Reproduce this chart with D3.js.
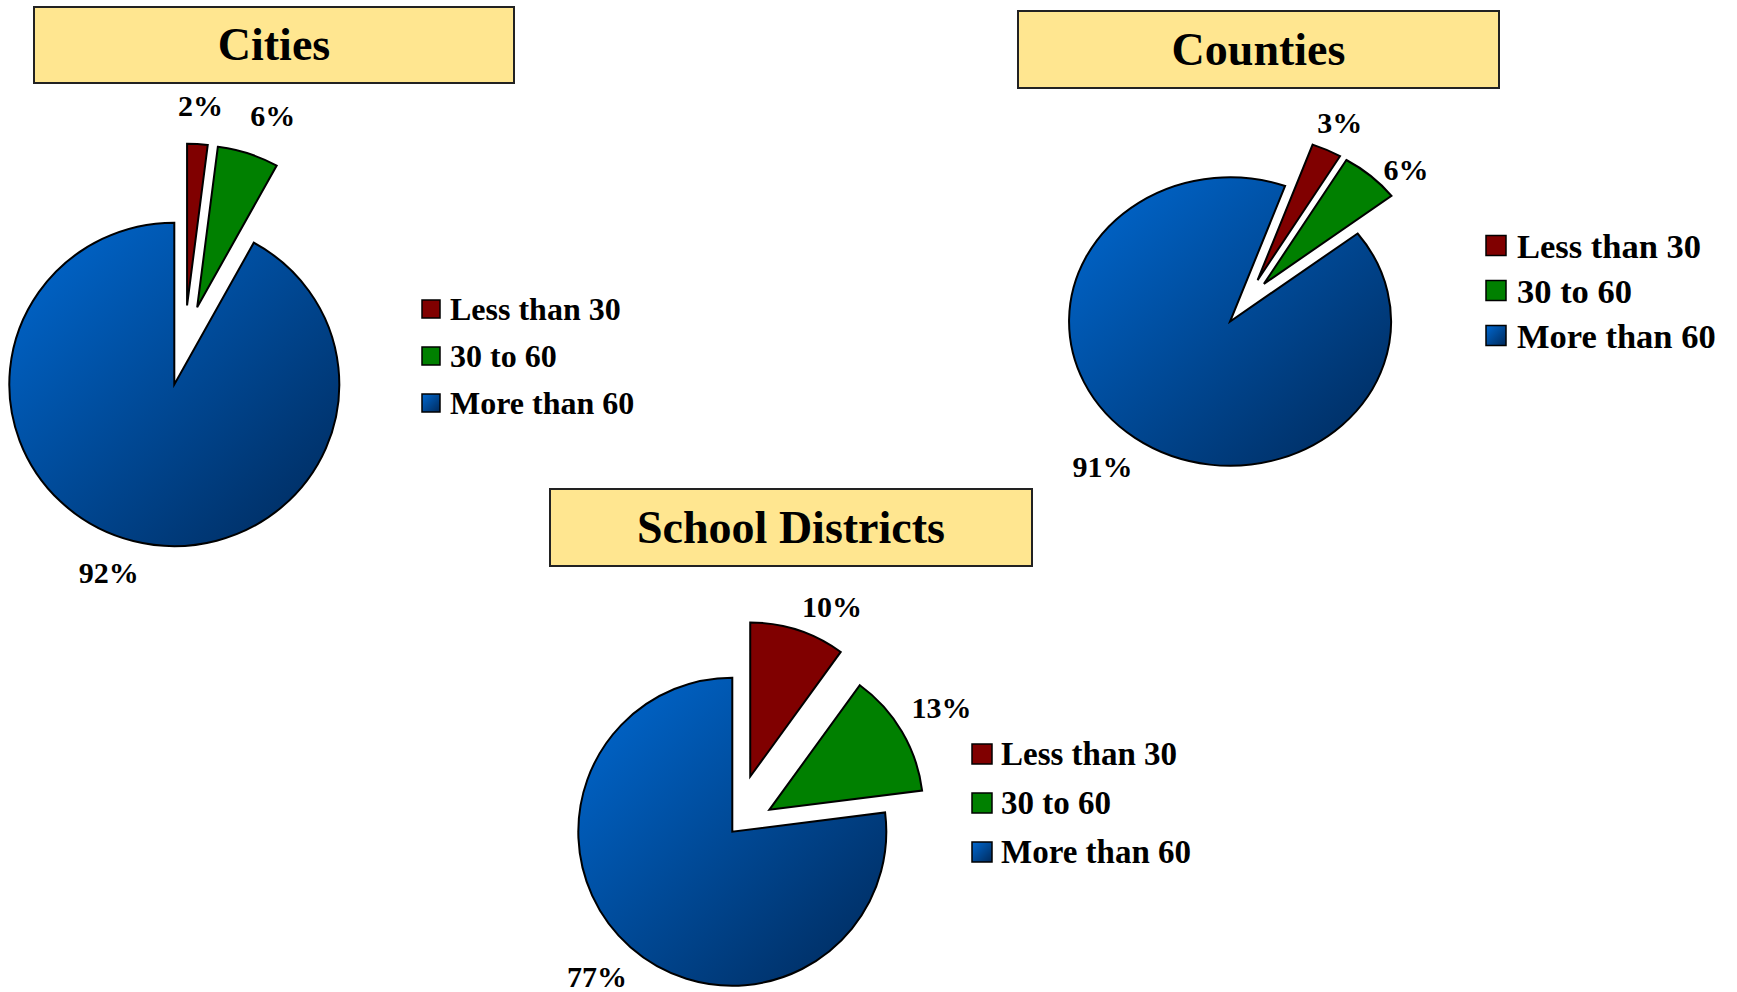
<!DOCTYPE html>
<meta charset="utf-8">
<script src="https://d3js.org/d3.v7.min.js"></script>
<style>
body { margin: 0; background: #fff; }
text {
  font-family: "Palatino Linotype", "Book Antiqua", Palatino, "Liberation Serif", serif;
  font-weight: bold;
  fill: #000;
}
.slice, .swatch {
  stroke: #000;
  stroke-width: 2px;
}
.titlebox {
  fill: #ffe690;
  stroke: #222;
  stroke-width: 2px;
}
</style>
<body>
<script>

// data
var categories = ["Less than 30", "30 to 60", "More than 60"];
var chartTitles = ["Cities", "Counties", "School Districts"];
var citiesValues = [2, 6, 92];
var countiesValues = [3, 6, 91];
var schoolValues = [10, 13, 77];

// layout for each of the three little charts
var panels = [
  {title: chartTitles[0], values: citiesValues,
   box: {x: 34, y: 7, w: 480, h: 76},
   pie: {cx: 184.5, cy: 345.5, r: 165, sy: 0.98, start: 0, explode: [41, 41, 41], gap: 28},
   nudge: [[0, 0], [9, -1], [-10, -6]],
   legend: {x: 422, y: 309, step: 47, size: 18, font: 32, dx: 28}},
  {title: chartTitles[1], values: countiesValues,
   box: {x: 1018, y: 11, w: 481, h: 77},
   pie: {cx: 1246, cy: 302, r: 161, sy: 0.896, start: 20, explode: [27, 27, 27], gap: 20},
   nudge: [[-5, -1], [7, 15], [-3, 5]],
   legend: {x: 1486, y: 245.5, step: 45, size: 20, font: 34.5, dx: 31}},
  {title: chartTitles[2], values: schoolValues,
   box: {x: 550, y: 489, w: 482, h: 77},
   pie: {cx: 732.3, cy: 831.7, r: 154, sy: 1, start: 0, explode: [58, 43, 0], gap: 22},
   nudge: [[18, 8], [-5, -7], [1, 5]],
   legend: {x: 972, y: 754, step: 49, size: 20, font: 33, dx: 29}}
];

var width = 1737, height = 992;

var color = d3.scaleOrdinal()
    .domain(categories)
    .range(["#800000", "#008000", "url(#blueGrad)"]);

var svg = d3.select("body").append("svg")
    .attr("width", width)
    .attr("height", height);

svg.append("rect")
    .attr("width", width)
    .attr("height", height)
    .attr("fill", "#fff");

// blue shading, light at top left, dark at bottom right
var grad = svg.append("defs").append("linearGradient")
    .attr("id", "blueGrad")
    .attr("x1", 0).attr("y1", 0)
    .attr("x2", 1).attr("y2", 1);
grad.append("stop").attr("offset", "0%").attr("stop-color", "#0069d2");
grad.append("stop").attr("offset", "100%").attr("stop-color", "#00295a");

panels.forEach(function(p) {
    var g = svg.append("g");

    // title box
    g.append("rect")
        .attr("class", "titlebox")
        .attr("x", p.box.x)
        .attr("y", p.box.y)
        .attr("width", p.box.w)
        .attr("height", p.box.h);

    g.append("text")
        .attr("x", p.box.x + p.box.w / 2)
        .attr("y", p.box.y + p.box.h / 2 + 15)
        .attr("text-anchor", "middle")
        .style("font-size", "46px")
        .text(p.title);

    // pie
    var a0 = p.pie.start * Math.PI / 180;
    var pie = d3.pie().sort(null).value(function(d) { return d.value; })
        .startAngle(a0).endAngle(a0 + 2 * Math.PI);
    var arc = d3.arc().innerRadius(0).outerRadius(p.pie.r);

    var rows = categories.map(function(c, i) { return {cat: c, value: p.values[i], i: i}; });
    var arcs = pie(rows);

    var pg = g.append("g")
        .attr("transform", "translate(" + p.pie.cx + "," + p.pie.cy + ") scale(1," + p.pie.sy + ")");

    pg.selectAll("path")
        .data(arcs)
        .enter()
        .append("path")
        .attr("class", "slice")
        .attr("vector-effect", "non-scaling-stroke")
        .attr("fill", function(d) { return color(d.data.cat); })
        .attr("transform", function(d) {
            var m = (d.startAngle + d.endAngle) / 2, e = p.pie.explode[d.data.i];
            return "translate(" + (e * Math.sin(m)) + "," + (-e * Math.cos(m)) + ")";
        })
        .attr("d", arc);

    // percent labels just outside each slice
    arcs.forEach(function(d) {
        var m = (d.startAngle + d.endAngle) / 2;
        var dist = p.pie.r + p.pie.explode[d.data.i] + p.pie.gap;
        var t = g.append("text")
            .attr("text-anchor", "middle")
            .attr("dominant-baseline", "central")
            .style("font-size", "30px")
            .text(d.data.value + "%");
        var w = t.node().getComputedTextLength(), h = 22;
        var nd = p.nudge[d.data.i];
        var x = p.pie.cx + dist * Math.sin(m) + w / 2 * Math.sin(m) + nd[0];
        var y = p.pie.cy - (dist * Math.cos(m)) * p.pie.sy - h / 2 * Math.cos(m) + nd[1];
        t.attr("x", x).attr("y", y);
    });

    // legend
    var lg = g.append("g")
        .attr("transform", "translate(" + p.legend.x + "," + p.legend.y + ")");
    var item = lg.selectAll("g")
        .data(categories)
        .enter()
        .append("g")
        .attr("transform", function(d, i) { return "translate(0," + (i * p.legend.step) + ")"; });
    item.append("rect")
        .attr("class", "swatch")
        .style("stroke-width", "1.5px")
        .attr("x", 0)
        .attr("y", -p.legend.size / 2)
        .attr("width", p.legend.size)
        .attr("height", p.legend.size)
        .attr("fill", function(d) { return color(d); });
    item.append("text")
        .attr("x", p.legend.dx)
        .attr("y", 0)
        .attr("dominant-baseline", "central")
        .style("font-size", p.legend.font + "px")
        .text(function(d) { return d; });
});

</script>
</body>
</html>
